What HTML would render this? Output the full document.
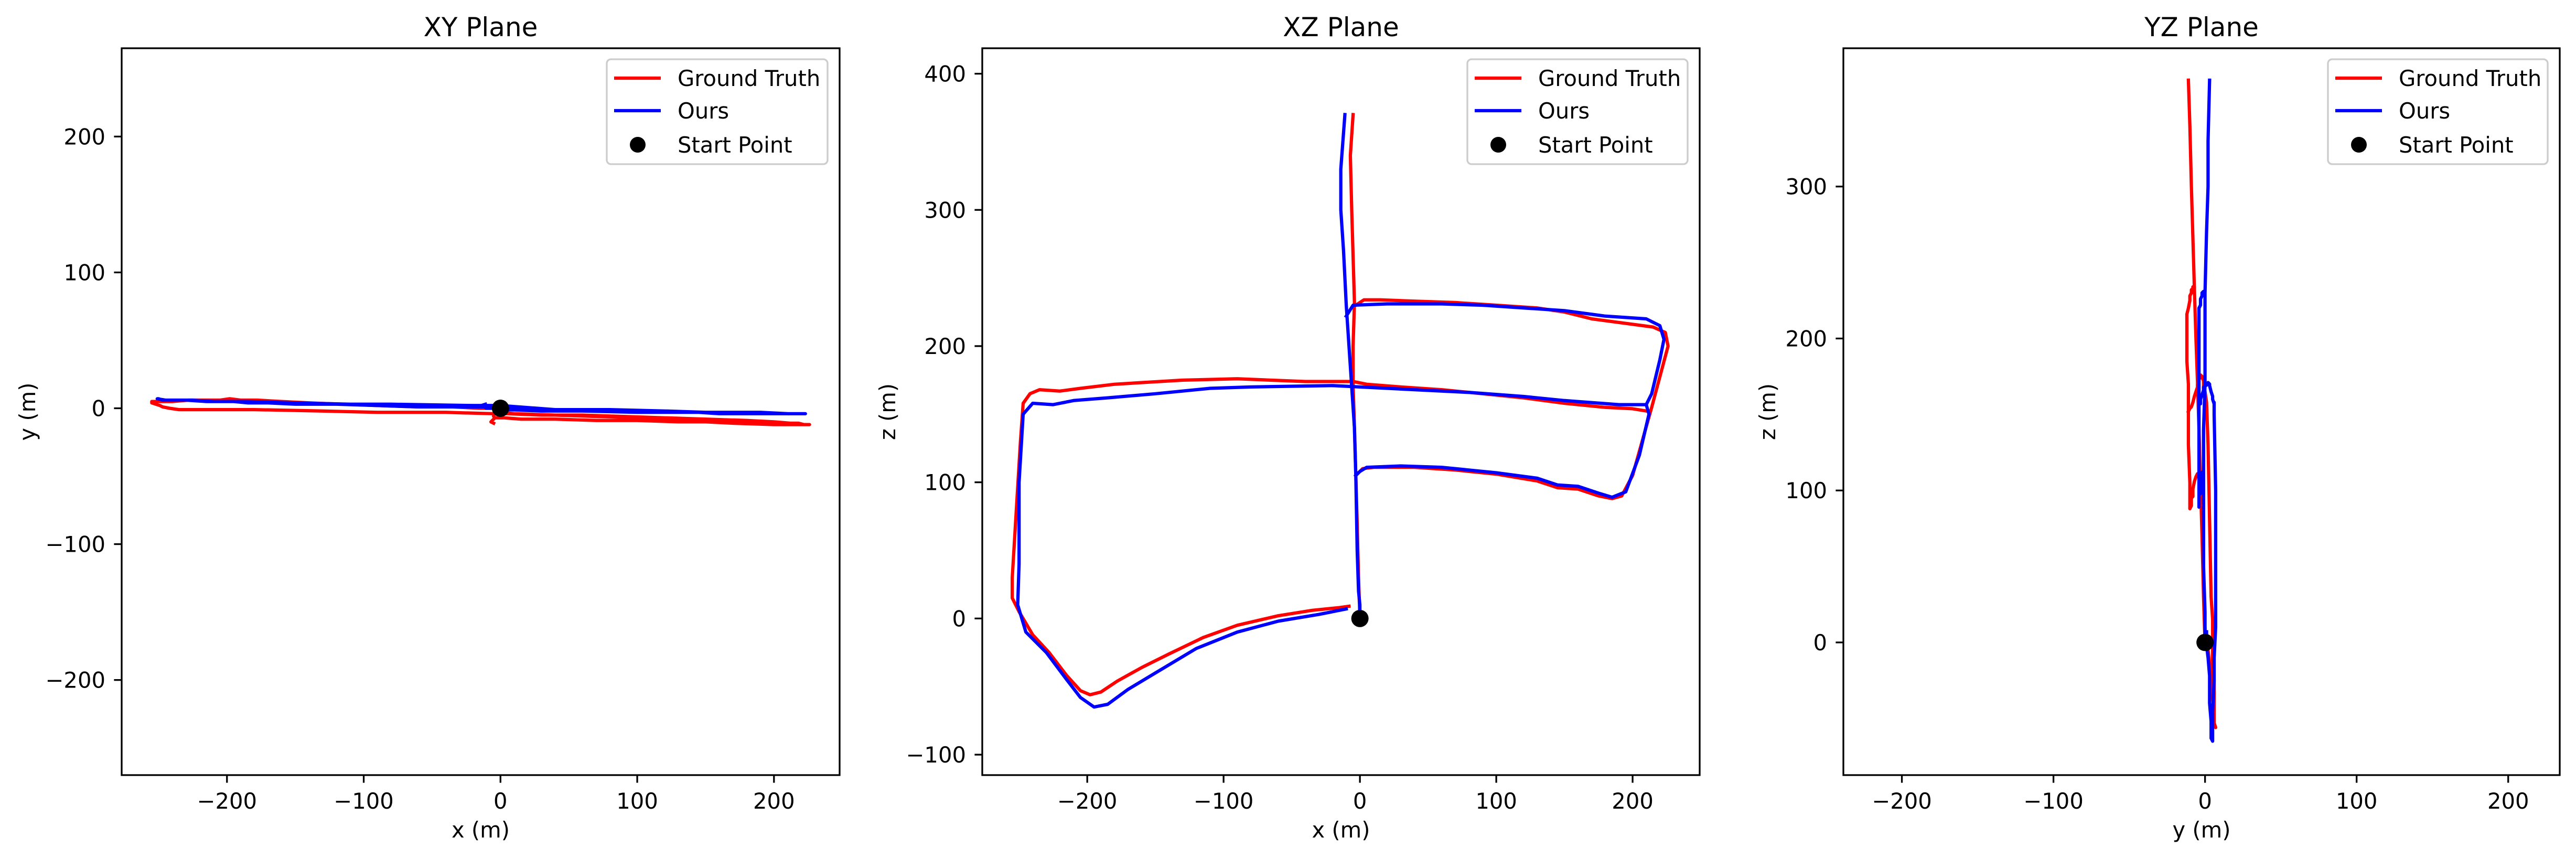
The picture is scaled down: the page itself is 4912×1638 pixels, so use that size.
<!DOCTYPE html>
<html><head><meta charset="utf-8"><style>
html,body{margin:0;padding:0;background:#fff;}
svg{display:block;font-family:"DejaVu Sans","Liberation Sans",sans-serif;}
</style></head><body>
<svg id="chart" xmlns="http://www.w3.org/2000/svg" width="4912" height="1638" viewBox="0 0 4912 1638"></svg>
<script>
// Ground truth trajectory [x, y, z]; null = segment break
const gtPath = [
 [0,0,0],[-1,-1,30],[-2,-2,70],[-3,-3,105],[-4,-4,140],[-5,-5,172],[-5,-6,200],[-4,-7,232],[-6,-9,300],[-7,-10,340],[-5,-11,370],
 null,
 [-3,-3,105],[2,-3,110],[10,-4,111],[40,-5,111],[70,-6,109],[100,-7,106],[130,-8,101],[145,-8,96],[160,-9,95],[175,-9,90],[185,-10,88],[192,-10,90],[200,-10,105],[207,-11,130],[212,-11,148],[214,-11,155],[218,-11,170],[222,-12,185],[226,-12,200],[224,-12,210],[215,-12,214],[200,-12,216],[170,-11,220],[150,-10,225],[130,-10,228],[100,-9,230],[70,-9,232],[40,-8,233],[15,-8,234],[3,-7,234],[-3,-7,230],
 null,
 [212,-11,152],[200,-10,154],[180,-9,155],[150,-8,158],[120,-7,162],[90,-6,165],[60,-5,168],[30,-5,170],[5,-4,172],[-5,-4,174],[-40,-3,174],[-90,-3,176],[-130,-2,175],[-180,-1,172],[-205,-1,169],[-220,-1,167],[-235,-1,168],[-242,0,165],[-247,1,158],[-249,2,130],[-252,3,80],[-255,4,30],[-255,5,15],[-250,5,5],[-240,5,-12],[-228,6,-25],[-215,6,-42],[-205,6,-53],[-198,7,-56],[-190,6,-54],[-178,6,-46],[-160,5,-36],[-140,4,-26],[-115,3,-14],[-90,2,-5],[-60,1,2],[-35,1,6],[-15,0,8],[-8,0,9]
];
// Estimated trajectory (Ours)
const oursPath = [
 [0,0,0],[0,0,10],[-1,0,20],[-2,-1,50],[-3,-1,105],[-4,-1,140],[-6,0,170],[-8,0,200],[-10,0,230],[-12,1,270],[-14,2,300],[-14,2,330],[-11,3,370],
 null,
 [-3,-1,105],[0,-1,108],[5,-1,111],[30,-2,112],[60,-2,111],[100,-3,107],[130,-3,103],[145,-3,98],[160,-4,97],[175,-4,92],[185,-4,89],[195,-4,93],[205,-4,120],[212,-4,150],[210,-4,157],[214,-4,165],[220,-4,190],[223,-4,205],[220,-4,215],[210,-4,220],[180,-3,222],[150,-3,226],[120,-2,228],[90,-2,230],[60,-1,231],[20,-1,231],[-5,0,230],[-10,0,222],
 null,
 [210,-4,157],[190,-3,157],[150,-3,160],[120,-2,163],[80,-1,166],[40,-1,168],[0,2,170],[-20,2,171],[-80,3,170],[-110,3,169],[-150,4,165],[-185,5,162],[-210,5,160],[-225,6,157],[-240,6,158],[-247,6,150],[-250,7,100],[-250,7,40],[-251,7,10],[-245,6,-10],[-230,6,-25],[-215,5,-45],[-205,5,-58],[-195,5,-65],[-185,4,-63],[-170,4,-52],[-150,3,-40],[-120,3,-22],[-90,2,-10],[-60,1,-2],[-30,1,3],[-10,1,7]
];
const startPoint = [0,0,0];
const ticksXY_x = [-200,-100,0,100,200];
const ticksXY_y = [-200,-100,0,100,200];
const ticksXZ_x = [-200,-100,0,100,200];
const ticksXZ_z = [-100,0,100,200,300,400];
const ticksYZ_y = [-200,-100,0,100,200];
const ticksYZ_z = [0,100,200,300];

const NS = "http://www.w3.org/2000/svg";
const svg = document.getElementById('chart');
function mk(tag, attrs, parent){
  const e = document.createElementNS(NS, tag);
  for (const k in attrs) e.setAttribute(k, attrs[k]);
  (parent||svg).appendChild(e);
  return e;
}
function fmt(v){ return v < 0 ? "\u2212" + Math.abs(v) : String(v); }

const panels = [
  {key:'xy', title:'XY Plane', xl:'x (m)', yl:'y (m)', ix:0, iy:1, L:232, R:1601, T:92, B:1478, x0:-277, x1:248, y0:-270, y1:265, xt:ticksXY_x, yt:ticksXY_y, ylx:67, leg:1157},
  {key:'xz', title:'XZ Plane', xl:'x (m)', yl:'z (m)', ix:0, iy:2, L:1873, R:3241, T:92, B:1478, x0:-277, x1:249.2, y0:-115, y1:418.7, xt:ticksXZ_x, yt:ticksXZ_z, ylx:1707, leg:2798},
  {key:'yz', title:'YZ Plane', xl:'y (m)', yl:'z (m)', ix:1, iy:2, L:3515, R:4881, T:92, B:1478, x0:-238.6, x1:234, y0:-87.3, y1:391, xt:ticksYZ_y, yt:ticksYZ_z, ylx:3385, leg:4439}
];

panels.forEach(p => {
  const g = mk('g', {});
  
  
  const sx = v => p.L + (v - p.x0) / (p.x1 - p.x0) * (p.R - p.L);
  const sy = v => p.B - (v - p.y0) / (p.y1 - p.y0) * (p.B - p.T);
  const cid = 'clip-' + p.key;
  const cp = mk('clipPath', {id: cid}, g);
  mk('rect', {x:p.L, y:p.T, width:p.R-p.L, height:p.B-p.T}, cp);

  function drawSeries(data, color, name){
    let d = '', pen = false;
    data.forEach(pt => {
      if (!pt) { pen = false; return; }
      d += (pen ? 'L' : 'M') + sx(pt[p.ix]).toFixed(1) + ' ' + sy(pt[p.iy]).toFixed(1) + ' ';
      pen = true;
    });
    const path = mk('path', {d:d, fill:'none', stroke:color, 'stroke-width':6.25, 'stroke-linejoin':'round', 'stroke-linecap':'square', 'clip-path':'url(#'+cid+')'}, g);
    
    
  }
  drawSeries(gtPath, '#ff0000', 'ground-truth');
  drawSeries(oursPath, '#0000ff', 'ours');
  const sp = mk('circle', {cx:sx(startPoint[p.ix]), cy:sy(startPoint[p.iy]), r:16.5, fill:'#000'}, g);
  
  

  const frame = mk('rect', {x:p.L, y:p.T, width:p.R-p.L, height:p.B-p.T, fill:'none', stroke:'#000', 'stroke-width':3.3}, g);
  
  

  p.xt.forEach(v => {
    const x = sx(v);
    mk('line', {x1:x, y1:p.B, x2:x, y2:p.B+14.6, stroke:'#000', 'stroke-width':3.3}, g);
    const t = mk('text', {x:x, y:1542, 'font-size':41.7, 'text-anchor':'middle', fill:'#000'}, g);
    t.textContent = fmt(v);
    
    
  });
  p.yt.forEach(v => {
    const y = sy(v);
    mk('line', {x1:p.L, y1:y, x2:p.L-14.6, y2:y, stroke:'#000', 'stroke-width':3.3}, g);
    const t = mk('text', {x:p.L-31, y:y+15, 'font-size':41.7, 'text-anchor':'end', fill:'#000'}, g);
    t.textContent = fmt(v);
    
    
  });
  const cx = (p.L + p.R) / 2, cy = (p.T + p.B) / 2;
  const tt = mk('text', {x:cx, y:69, 'font-size':50, 'text-anchor':'middle', fill:'#000'}, g);
  tt.textContent = p.title;
  
  
  const xl = mk('text', {x:cx, y:1597, 'font-size':41.7, 'text-anchor':'middle', fill:'#000'}, g);
  xl.textContent = p.xl;
  
  
  const yl = mk('text', {x:p.ylx, y:cy, 'font-size':41.7, 'text-anchor':'middle', fill:'#000', transform:'rotate(-90 '+p.ylx+' '+cy+')'}, g);
  yl.textContent = p.yl;
  
  

  // legend
  const lg = mk('g', {}, g);
  
  
  const lw = p.R - 23 - p.leg;
  mk('rect', {x:p.leg, y:113, width:lw, height:200, rx:8, fill:'#fff', 'fill-opacity':0.8, stroke:'#cccccc', 'stroke-width':3.3}, lg);
  const rows = [['Ground Truth','#ff0000','line',149],['Ours','#0000ff','line',211],['Start Point','#000','dot',276]];
  rows.forEach(r => {
    const e = mk('g', {}, lg);
    
    
    if (r[2] === 'line') mk('line', {x1:p.leg+14, y1:r[3], x2:p.leg+103, y2:r[3], stroke:r[1], 'stroke-width':6.25}, e);
    else mk('circle', {cx:p.leg+59, cy:r[3], r:15, fill:r[1]}, e);
    const t = mk('text', {x:p.leg+135, y:r[3]+15, 'font-size':41.7, fill:'#000'}, e);
    t.textContent = r[0];
  });
});
</script>
</body></html>
